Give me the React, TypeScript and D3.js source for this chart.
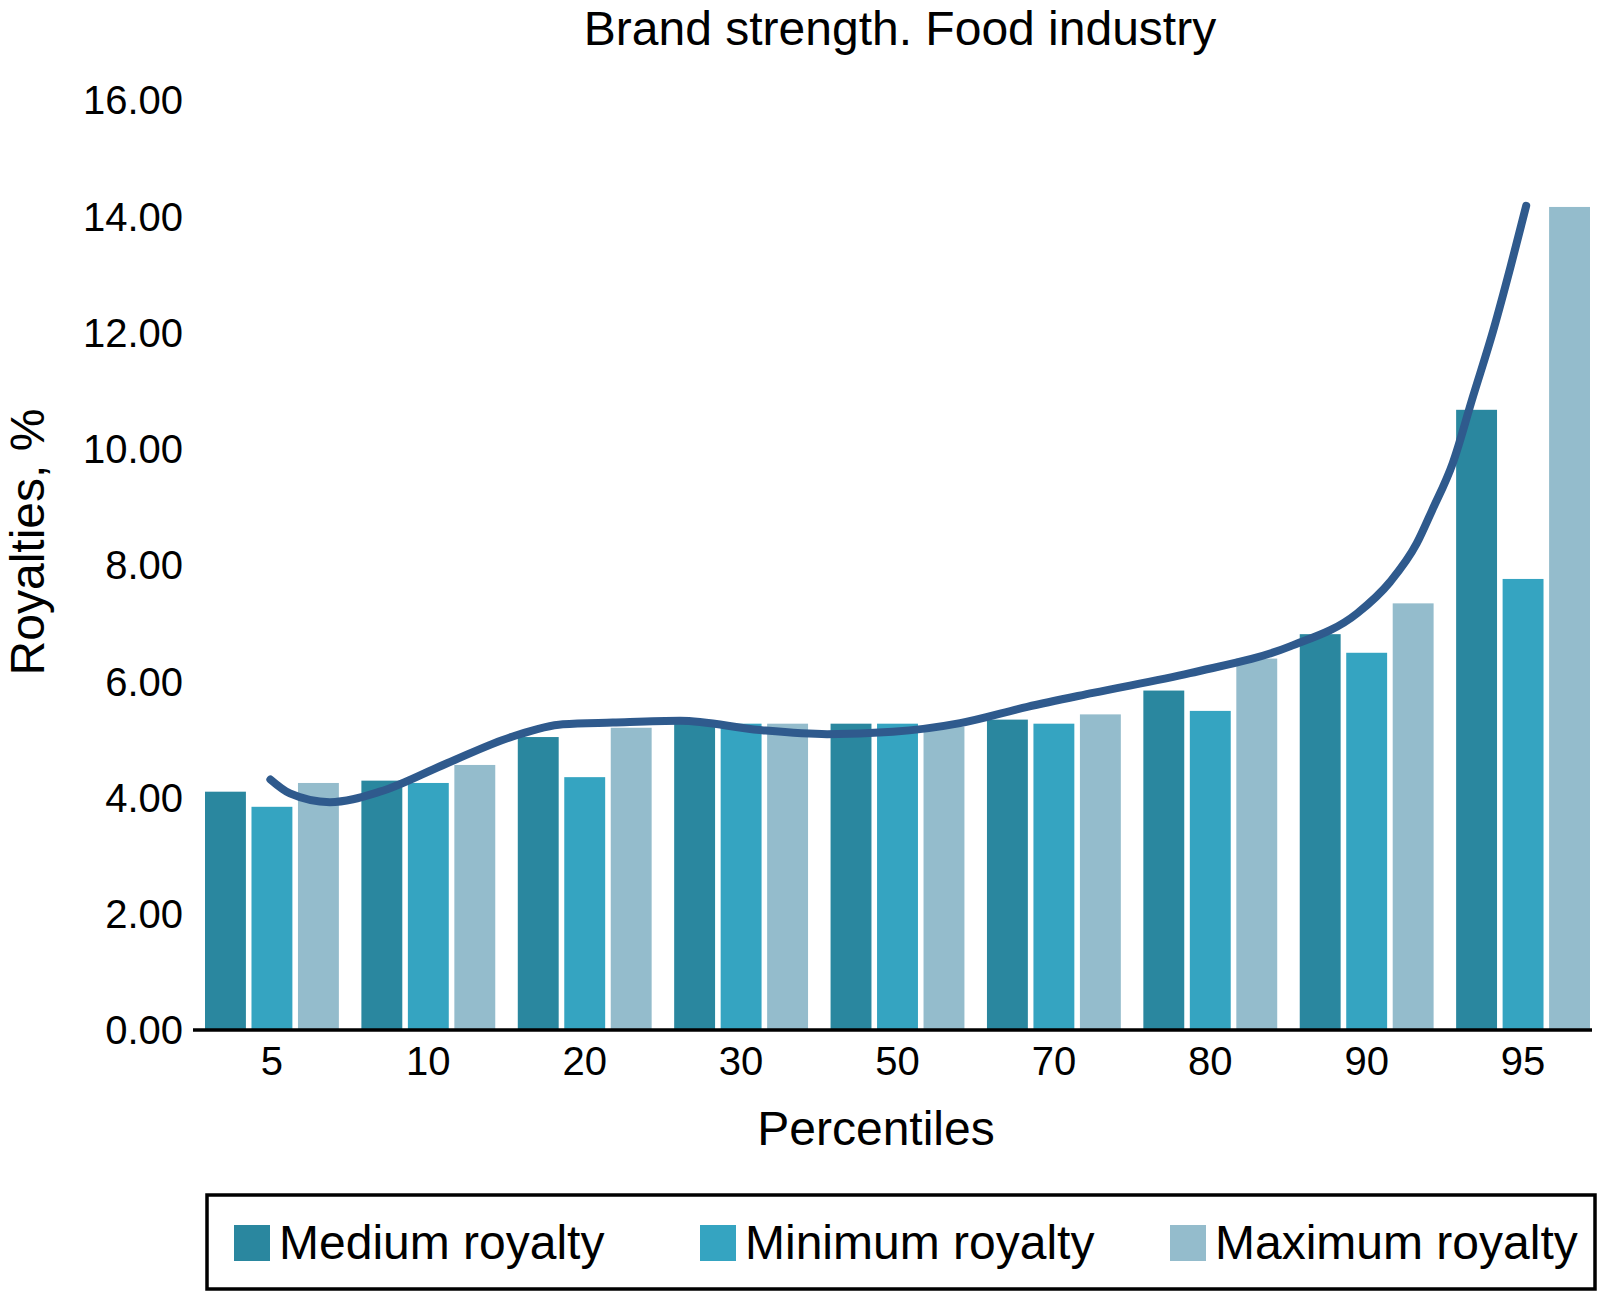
import { useEffect, useRef } from "react";
import * as d3 from "d3";

const PERCENTILES = ["5", "10", "20", "30", "50", "70", "80", "90", "95"];
const SERIES = ["Medium royalty", "Minimum royalty", "Maximum royalty"];
const MEDIUM = [4.1, 4.29, 5.04, 5.3, 5.27, 5.34, 5.84, 6.81, 10.67];
const MINIMUM = [3.84, 4.25, 4.35, 5.27, 5.27, 5.27, 5.49, 6.49, 7.76];
const MAXIMUM = [4.25, 4.56, 5.2, 5.27, 5.22, 5.43, 6.39, 7.34, 14.16];
const Y_TICKS = [0, 2, 4, 6, 8, 10, 12, 14, 16];

// trend curve: [category position, value]
const TREND: [number, number][] = [
  [-0.01, 4.31], [0.115, 4.07], [0.37, 3.92], [0.69, 4.1], [1.12, 4.59],
  [1.54, 5.05], [1.86, 5.26], [2.18, 5.29], [2.61, 5.32], [3.12, 5.16],
  [3.55, 5.09], [3.97, 5.13], [4.4, 5.28], [4.83, 5.56], [5.25, 5.8],
  [5.87, 6.14], [6.51, 6.6], [6.94, 7.17], [7.15, 7.71], [7.32, 8.37],
  [7.42, 8.95], [7.55, 9.75], [7.68, 10.9], [7.81, 12.04], [7.92, 13.13],
  [8.02, 14.18],
];

const COLORS = ["#2a879f", "#35a4c1", "#94bccc"];
const LINE_COLOR = "#2f5a8d";
const FONT = "'Liberation Sans', Arial, Helvetica, sans-serif";

const W = 1611;
const H = 1292;

export default function App() {
  const svgRef = useRef<SVGSVGElement>(null);

  useEffect(() => {
    if (!svgRef.current) return;
    const svg = d3.select(svgRef.current);
    svg.selectAll("*").remove();

    const values = [MEDIUM, MINIMUM, MAXIMUM];

    const x = d3
      .scaleBand<string>()
      .domain(PERCENTILES)
      .range([205, 1590])
      .paddingInner(0.144)
      .paddingOuter(0);
    const xi = d3
      .scaleBand<number>()
      .domain([0, 1, 2])
      .range([0, x.bandwidth()])
      .paddingInner(0.12);
    const y = d3.scaleLinear().domain([0, 16]).range([1030, 100]);

    // title
    svg
      .append("text")
      .attr("x", 900)
      .attr("y", 45)
      .attr("text-anchor", "middle")
      .attr("font-size", 48)
      .attr("fill", "#000")
      .text("Brand strength. Food industry");

    // bars
    const groups = svg
      .append("g")
      .selectAll("g")
      .data(PERCENTILES)
      .join("g")
      .attr("transform", (d) => `translate(${x(d)},0)`);

    groups
      .selectAll("rect")
      .data((_, i) => values.map((s, k) => ({ k, v: s[i] })))
      .join("rect")
      .attr("x", (d) => xi(d.k)!)
      .attr("width", xi.bandwidth())
      .attr("y", (d) => y(d.v))
      .attr("height", (d) => y(0) - y(d.v))
      .attr("fill", (d) => COLORS[d.k]);

    // y tick labels (no axis line)
    svg
      .append("g")
      .selectAll("text")
      .data(Y_TICKS)
      .join("text")
      .attr("x", 183)
      .attr("y", (d) => y(d))
      .attr("dy", "0.36em")
      .attr("text-anchor", "end")
      .attr("font-size", 40)
      .text((d) => d.toFixed(2));

    // x axis line
    svg
      .append("line")
      .attr("x1", 193)
      .attr("x2", 1592)
      .attr("y1", y(0))
      .attr("y2", y(0))
      .attr("stroke", "#000")
      .attr("stroke-width", 3.5);

    svg
      .append("g")
      .selectAll("text")
      .data(PERCENTILES)
      .join("text")
      .attr("x", (d) => x(d)! + x.bandwidth() / 2)
      .attr("y", 1075)
      .attr("text-anchor", "middle")
      .attr("font-size", 40)
      .text((d) => d);

    // axis titles
    svg
      .append("text")
      .attr("x", 876)
      .attr("y", 1145)
      .attr("text-anchor", "middle")
      .attr("font-size", 48)
      .text("Percentiles");

    svg
      .append("text")
      .attr("transform", "translate(44,542) rotate(-90)")
      .attr("text-anchor", "middle")
      .attr("font-size", 48)
      .text("Royalties, %");

    // trend line
    const c0 = x(PERCENTILES[0])! + x.bandwidth() / 2;
    const c8 = x(PERCENTILES[8])! + x.bandwidth() / 2;
    const xt = d3.scaleLinear().domain([0, 8]).range([c0, c8]);
    const line = d3
      .line<[number, number]>()
      .x((d) => xt(d[0]))
      .y((d) => y(d[1]))
      .curve(d3.curveMonotoneX);
    svg
      .append("path")
      .attr("d", line(TREND))
      .attr("fill", "none")
      .attr("stroke", LINE_COLOR)
      .attr("stroke-width", 8)
      .attr("stroke-linecap", "round");

    // legend
    const lg = svg.append("g");
    lg.append("rect")
      .attr("x", 207)
      .attr("y", 1195)
      .attr("width", 1388)
      .attr("height", 94)
      .attr("fill", "#fff")
      .attr("stroke", "#000")
      .attr("stroke-width", 3.5);
    const swatchX = [234, 700, 1170];
    const items = lg
      .selectAll("g")
      .data(SERIES)
      .join("g")
      .attr("transform", (_, i) => `translate(${swatchX[i]},0)`);
    items
      .append("rect")
      .attr("x", 0)
      .attr("y", 1225)
      .attr("width", 36)
      .attr("height", 36)
      .attr("fill", (_, i) => COLORS[i]);
    items
      .append("text")
      .attr("x", 45)
      .attr("y", 1259)
      .attr("font-size", 48)
      .text((d) => d);
  }, []);

  return (
    <div style={{ position: "absolute", left: 0, top: 0 }}>
      <svg
        ref={svgRef}
        width={W}
        height={H}
        style={{ display: "block", background: "#fff", fontFamily: FONT }}
      />
    </div>
  );
}
